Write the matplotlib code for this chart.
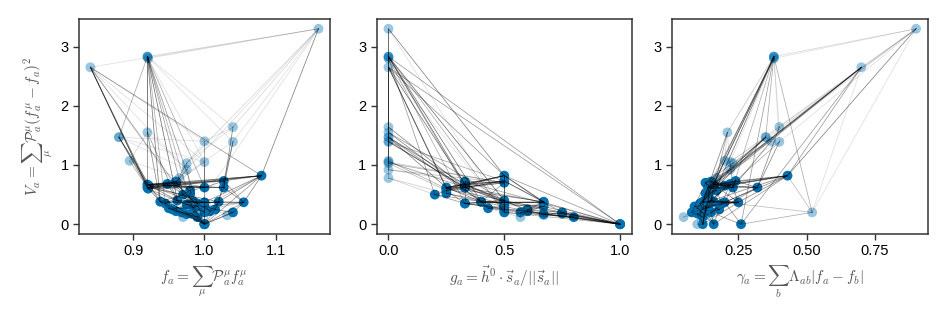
import numpy as np
import matplotlib
matplotlib.use('Agg')
import matplotlib.pyplot as plt

plt.rcParams['font.family'] = ['Liberation Sans', 'DejaVu Sans']
plt.rcParams['mathtext.fontset'] = 'cm'

#-------------------------------------------------------
# nodes: V, f, g, gamma, alpha
V = [3.30, 2.83, 2.80, 2.65, 1.64, 1.55, 1.47, 1.40, 1.39, 1.07, 1.05, 1.03, 0.92, 0.78,
     0.20, 0.12, 0.15, 0.00,
     0.82, 0.67, 0.62, 0.60, 0.68, 0.72, 0.62, 0.73, 0.62, 0.70, 0.57, 0.50, 0.52,
     0.38, 0.35, 0.40, 0.38, 0.37, 0.38, 0.37, 0.33, 0.30, 0.27, 0.25, 0.22, 0.25,
     0.30, 0.20, 0.18, 0.20, 0.17, 0.12, 0.22, 0.00, 0.00, 0.00, 0.35, 0.28, 0.20, 0.65]
f = [1.160, 0.920, 0.921, 0.840, 1.040, 0.920, 0.880, 1.000, 1.040, 0.895, 1.000, 0.975, 0.975, 0.965,
     0.985, 0.970, 1.032, 1.000,
     1.080, 0.920, 0.920, 0.921, 0.948, 0.960, 1.000, 1.027, 1.027, 0.960, 0.980, 0.970, 0.980,
     0.938, 0.945, 0.962, 0.985, 1.000, 1.020, 1.055, 0.975, 1.000, 0.950, 0.955, 0.960, 1.015,
     0.990, 0.968, 0.982, 1.040, 0.975, 0.990, 1.008, 1.000, 1.000, 1.000, 0.990, 0.985, 1.000, 0.922]
g = [0.0, 0.0, 0.0, 0.0, 0.0, 0.0, 0.0, 0.0, 0.0, 0.0, 0.0, 0.0, 0.0, 0.0,
     0.50, 0.57, 0.67, 1.00,
     0.50, 0.33, 0.25, 0.25, 0.33, 0.33, 0.33, 0.50, 0.33, 0.50, 0.25, 0.20, 0.25,
     0.40, 0.33, 0.50, 0.40, 0.50, 0.67, 0.67, 0.50, 0.67, 0.43, 0.50, 0.60, 0.60,
     0.50, 0.57, 0.75, 0.75, 0.67, 0.80, 0.60, 1.00, 1.00, 1.00, 0.33, 0.50, 0.50, 0.33]
gam = [0.90, 0.38, 0.38, 0.70, 0.40, 0.21, 0.35, 0.37, 0.40, 0.20, 0.22, 0.23, 0.22, 0.17,
       0.52, 0.05, 0.13, 0.10,
       0.43, 0.16, 0.14, 0.15, 0.22, 0.15, 0.23, 0.24, 0.32, 0.13, 0.17, 0.14, 0.13,
       0.12, 0.11, 0.15, 0.16, 0.25, 0.14, 0.20, 0.12, 0.13, 0.10, 0.12, 0.11, 0.18,
       0.09, 0.12, 0.10, 0.15, 0.11, 0.12, 0.13, 0.12, 0.16, 0.26, 0.19, 0.14, 0.08, 0.20]
alfa = [0.4, 0.75, 0.5, 0.4, 0.4, 0.4, 0.6, 0.4, 0.4, 0.4, 0.4, 0.4, 0.4, 0.4,
        0.4, 0.4, 0.4, 0.4] + [1.0] * 40

# edges: i, j, peso (opacidade)
arestas = [(0,1,.25),(0,4,.25),(0,8,.2),(0,11,.25),(0,12,.2),(0,18,.75),(0,3,.2),(0,14,.2),(0,2,.2),
           (1,2,.5),(1,5,.35),(1,6,.5),(1,4,.2),(1,8,.2),(1,19,.8),(1,31,.8),(1,33,.85),(1,24,.5),(1,14,.5),(1,53,.6),
           (2,29,.6),(2,32,.5),(2,10,.2),
           (3,19,.8),(3,20,.8),(3,21,.75),(3,7,.2),(3,10,.2),(3,12,.2),(3,18,.6),(3,14,.2),(3,53,.6),
           (4,26,.7),(4,7,.2),(4,11,.2),
           (5,31,.7),(5,33,.6),(5,12,.2),(5,9,.25),
           (6,19,.8),(6,20,.75),(6,31,.7),(6,10,.2),(6,12,.2),(6,7,.2),
           (7,24,.7),(7,11,.2),(8,26,.7),(8,25,.5),(8,13,.2),(9,21,.5),(9,13,.2),
           (10,24,.6),(10,27,.3),(11,27,.5),(11,28,.4),(12,27,.4),(12,23,.3),(13,29,.3),(13,30,.3),
           (14,53,.5),(14,37,.4),(14,18,.4),(15,40,.3),(15,45,.3),(16,47,.3),(16,43,.3),(17,51,.3),(17,46,.3),
           (18,19,.8),(18,20,.8),(18,21,.7),(18,57,.7),(18,37,.7),(18,36,.7),(18,35,.7),(18,52,.6),(18,25,.6),
           (19,20,.8),(19,22,.8),(19,23,.8),(19,24,.8),(19,25,.8),(19,26,.7),(19,33,.7),(19,35,.7),
           (20,22,.7),(20,24,.7),(20,25,.7),(20,31,.7),(20,36,.7),
           (21,27,.7),(21,24,.6),(21,38,.6),(21,51,.7),
           (57,23,.7),(57,26,.6),(57,34,.6),(22,23,.7),(22,33,.7),(22,54,.6),
           (23,27,.7),(23,24,.7),(23,51,.6),(24,25,.7),(24,26,.7),(24,35,.7),(24,28,.6),
           (25,26,.7),(25,36,.7),(25,37,.6),(26,37,.7),(26,43,.6),
           (27,28,.6),(27,34,.6),(27,44,.6),(28,29,.6),(28,30,.6),(28,54,.6),
           (29,31,.6),(29,32,.6),(30,34,.6),(30,38,.6),
           (31,32,.7),(31,35,.7),(31,36,.7),(31,40,.7),(32,33,.7),(32,41,.6),(32,52,.6),
           (33,34,.7),(33,35,.7),(33,55,.6),(33,42,.6),(34,35,.7),(34,36,.7),(34,50,.6),
           (35,36,.7),(35,37,.7),(35,39,.6),(35,51,.6),(36,37,.7),(36,43,.6),(36,50,.6),
           (37,47,.6),(37,53,.6),(37,39,.6),(38,39,.6),(38,44,.6),(38,41,.6),
           (39,43,.6),(39,50,.6),(39,51,.6),(40,41,.6),(40,45,.6),(40,44,.6),
           (41,42,.6),(41,55,.6),(42,45,.6),(42,48,.6),(42,52,.6),
           (43,47,.6),(43,50,.6),(43,52,.6),(44,55,.6),(44,56,.6),(45,46,.6),(45,49,.6),
           (46,48,.6),(46,49,.6),(46,51,.6),(47,52,.6),(47,53,.6),(48,49,.6),(48,51,.6),
           (49,51,.6),(50,51,.6),(54,55,.6),(54,35,.6),(55,56,.6),(56,49,.6)]

#-------------------------------------------------------
azul = (0.0, 0.447, 0.698)
cinza = '#555555'

fig = plt.figure(figsize=(9.47, 3.19), dpi=100)
ax1 = fig.add_axes([0.0834, 0.2665, 0.265, 0.674])
ax2 = fig.add_axes([0.398, 0.2665, 0.269, 0.674])
ax3 = fig.add_axes([0.7096, 0.2665, 0.270, 0.674])

V = np.array(V)
cores = [azul + (a,) for a in alfa]

for ax, x in [(ax1, np.array(f)), (ax2, np.array(g)), (ax3, np.array(gam))]:
    ax.scatter(x, V, s=50, c=cores, edgecolors='none', zorder=2)
    for i, j, w in arestas:
        ax.plot([x[i], x[j]], [V[i], V[j]], color='black', alpha=w * 0.65, lw=0.55, zorder=3)
    ax.set_yticks([0, 1, 2, 3])
    ax.tick_params(labelsize=10.5, length=4, width=1, color='#333333')
    for s in ax.spines.values():
        s.set_color('#333333')
        s.set_linewidth(1.1)

ax1.set_xticks([0.9, 1.0, 1.1])
ax2.set_xticks([0.0, 0.5, 1.0])
ax3.set_xticks([0.25, 0.5, 0.75])
ax3.set_xticklabels(['0.25', '0.50', '0.75'])

ax1.set_xlabel(r'$f_a = \sum_\mu \mathcal{P}_a^\mu f_a^\mu$', fontsize=11, color=cinza)
ax1.set_ylabel(r'$V_a = \sum_\mu \mathcal{P}_a^\mu (f_a^\mu - f_a)^2$', fontsize=11, color=cinza)
ax2.set_xlabel(r'$g_a = \vec{h}^0 \cdot \vec{s}_a / ||\vec{s}_a||$', fontsize=11, color=cinza)
ax3.set_xlabel(r'$\gamma_a = \sum_b \Lambda_{ab} |f_a - f_b|$', fontsize=11, color=cinza)

plt.savefig('out.png', dpi=100)
